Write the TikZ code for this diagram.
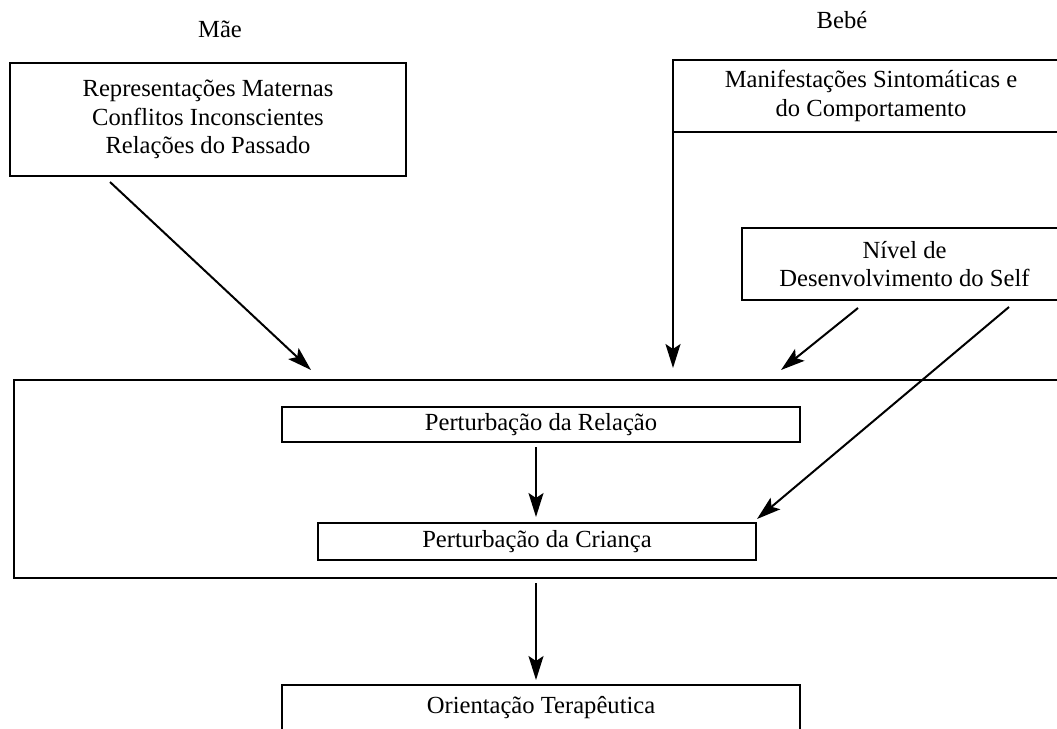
\documentclass[tikz,border=0pt]{standalone}
\usepackage{fontspec}
\setmainfont{Liberation Serif}
\usetikzlibrary{arrows.meta}
\begin{document}
\begin{tikzpicture}[x=1pt,y=-1pt,
  every node/.style={font=\fontsize{24.6pt}{28.3pt}\selectfont},
  box/.style={draw, line width=2.6pt, inner sep=0pt, outer sep=0pt, align=center},
  lbl/.style={inner sep=0pt},
  arr/.style={line width=2pt, -{Stealth[length=24pt,width=15pt,inset=5pt]}}]
\clip (0,0) rectangle (1057,728);
\fill[white] (0,0) rectangle (1057,728);
% labels
\node[lbl] (mae) at (220,29) {Mãe};
\node[lbl] (bebe) at (842,20) {Bebé};
% boxes
\node[box, minimum width=396pt, minimum height=113pt] (m) at (208,119.5)
  {Representações Maternas\\Conflitos Inconscientes\\Relações do Passado};
\node[box, minimum width=396pt, minimum height=72pt] (b) at (871,96)
  {Manifestações Sintomáticas e\\do Comportamento};
\node[box, minimum width=325pt, minimum height=72pt] (s) at (904.5,264)
  {Nível de\\Desenvolvimento do Self};
\node[box, minimum width=1048pt, minimum height=198pt] (big) at (538,479) {};
\node[box, minimum width=518pt, minimum height=35pt] (rel) at (541,424.5)
  {Perturbação da Relação};
\node[box, minimum width=438pt, minimum height=37pt] (cri) at (537,541.5)
  {Perturbação da Criança};
\node[box, minimum width=518pt, minimum height=46pt] (ori) at (541,708)
  {Orientação Terapêutica};
% connectors
\draw[arr] ([xshift=100pt,yshift=-6pt]m.south west) -- ([xshift=297pt,yshift=10pt]big.north west);
\draw[arr] (b.south west) -- ([xshift=659pt,yshift=12pt]big.north west);
\draw[arr] ([xshift=116pt,yshift=-8pt]s.south west) -- ([xshift=767pt,yshift=10pt]big.north west);
\draw[arr] ([xshift=267pt,yshift=-7pt]s.south west) -- ([xshift=1pt,yshift=4pt]cri.north east);
\draw[arr] ([xshift=-5pt,yshift=-5pt]rel.south) -- ([xshift=-1pt,yshift=6pt]cri.north);
\draw[arr] ([xshift=-2pt,yshift=-5pt]big.south) -- ([xshift=-5pt,yshift=5pt]ori.north);
\end{tikzpicture}
\end{document}
